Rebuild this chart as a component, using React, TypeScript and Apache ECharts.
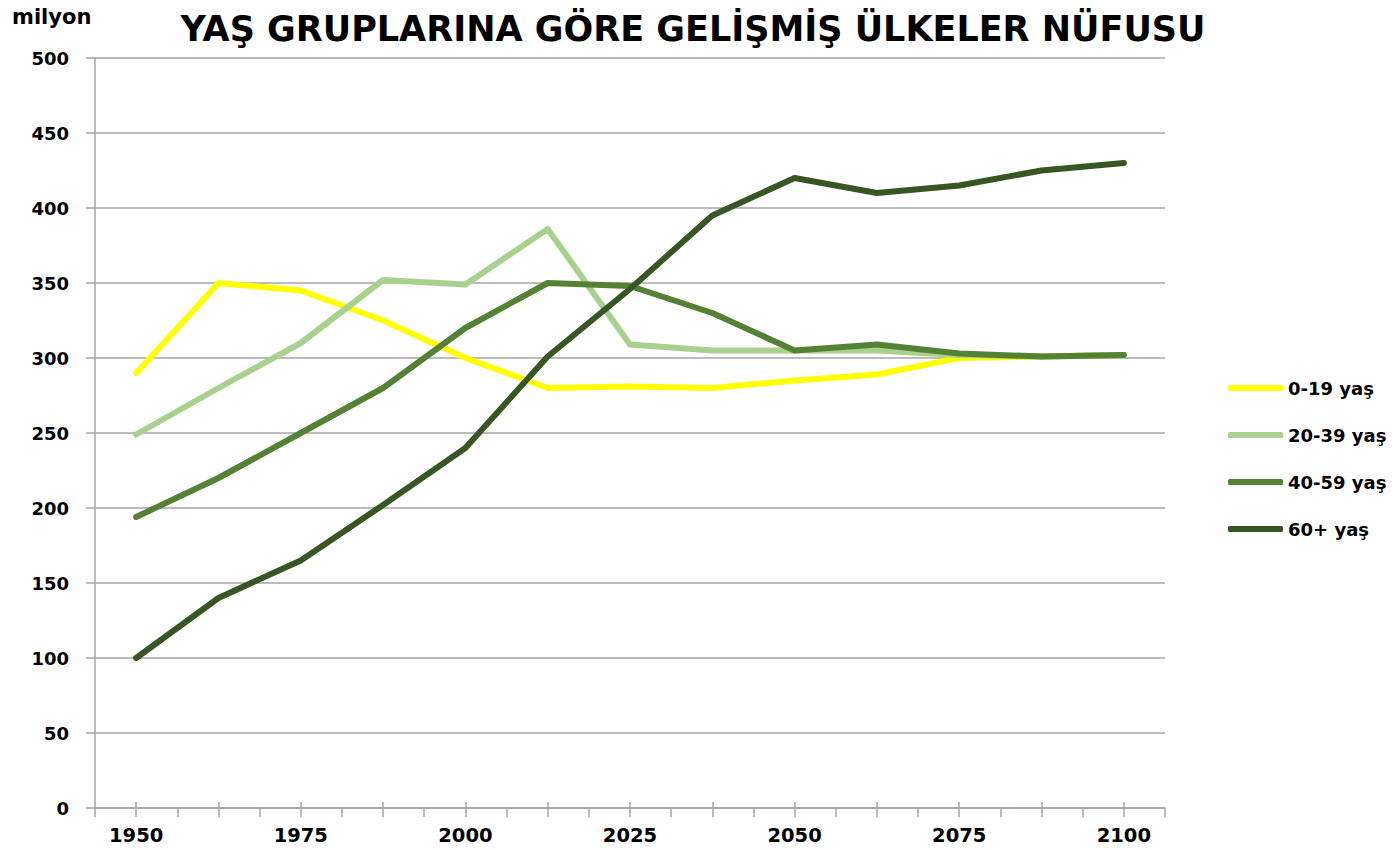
import React, { useEffect, useRef } from "react";
import * as echarts from "echarts";

const categories = ["1950", "1963", "1975", "1988", "2000", "2013", "2025", "2038", "2050", "2063", "2075", "2088", "2100"];
const seriesNames = ["0-19 yaş", "20-39 yaş", "40-59 yaş", "60+ yaş"];
const age0to19 = [290, 350, 345, 325, 300, 280, 281, 280, 285, 289, 300, 301, 302];
const age20to39 = [249, 280, 310, 352, 349, 386, 309, 305, 305, 305, 302, 301, 302];
const age40to59 = [194, 220, 250, 280, 320, 350, 348, 330, 305, 309, 303, 301, 302];
const age60plus = [100, 140, 165, 202, 240, 301, 346, 395, 420, 410, 415, 425, 430];
const colors = ["#FFFF00", "#A9D18E", "#548235", "#375623"];

const FONT = "DejaVu Sans";
const GRID_COLOR = "#A6A6A6";

export default function App() {
  const ref = useRef<HTMLDivElement>(null);
  useEffect(() => {
    if (!ref.current) return;
    const chart = echarts.init(ref.current, undefined, { renderer: "svg" });
    const values = [age0to19, age20to39, age40to59, age60plus];
    const hiddenCat = {
      type: "category",
      data: categories,
      boundaryGap: true,
      gridIndex: 0,
      position: "bottom",
      axisLine: { show: false },
      axisLabel: { show: false },
      splitLine: { show: false },
    };
    chart.setOption({
      animation: false,
      backgroundColor: "#ffffff",
      title: [
        {
          text: "YAŞ GRUPLARINA GÖRE GELİŞMİŞ ÜLKELER NÜFUSU",
          left: 688,
          textAlign: "center",
          top: 6,
          textStyle: { fontFamily: FONT, fontWeight: "bold", fontSize: 35, color: "#000" },
        },
        {
          text: "milyon",
          left: 7,
          top: 1,
          textStyle: { fontFamily: FONT, fontWeight: "bold", fontSize: 21, color: "#000" },
        },
      ],
      legend: {
        orient: "vertical",
        left: 1223,
        top: 372,
        data: seriesNames,
        icon: "roundRect",
        itemWidth: 55,
        itemHeight: 6,
        itemGap: 25,
        textStyle: { fontFamily: FONT, fontWeight: "bold", fontSize: 18, color: "#000", lineHeight: 22 },
      },
      grid: { left: 95, right: 230, top: 58, bottom: 42, containLabel: false },
      xAxis: [
        {
          type: "category",
          data: categories,
          boundaryGap: true,
          axisLine: { show: true, lineStyle: { color: GRID_COLOR, width: 1.5 } },
          axisTick: { show: true, interval: 0, length: 9, lineStyle: { color: GRID_COLOR, width: 1.5 } },
          axisLabel: {
            interval: 1,
            margin: 17,
            fontFamily: FONT,
            fontWeight: "bold",
            fontSize: 19.5,
            color: "#000",
          },
          splitLine: { show: false },
        },
        {
          ...hiddenCat,
          axisTick: { show: true, alignWithLabel: true, interval: 0, length: 9, lineStyle: { color: GRID_COLOR, width: 1.5 } },
        },
        {
          ...hiddenCat,
          axisTick: { show: true, alignWithLabel: true, inside: true, interval: 0, length: 6, lineStyle: { color: GRID_COLOR, width: 1.5 } },
        },
      ],
      yAxis: {
        type: "value",
        min: 0,
        max: 500,
        interval: 50,
        axisLine: { show: true, lineStyle: { color: GRID_COLOR, width: 1.5 } },
        axisTick: { show: true, length: 9, lineStyle: { color: GRID_COLOR, width: 1.5 } },
        axisLabel: { margin: 26, fontFamily: FONT, fontWeight: "bold", fontSize: 18, color: "#000" },
        splitLine: { show: true, lineStyle: { color: GRID_COLOR, width: 1.5 } },
      },
      series: seriesNames.map((name, i) => ({
        name,
        type: "line",
        xAxisIndex: 0,
        data: values[i],
        showSymbol: false,
        symbol: "none",
        color: colors[i],
        lineStyle: { color: colors[i], width: 6, cap: "round", join: "round" },
        z: 2 + i,
      })),
    });
    return () => chart.dispose();
  }, []);
  return (
    <div
      ref={ref}
      style={{ position: "absolute", left: 0, top: 0, width: 1395, height: 850 }}
    />
  );
}
